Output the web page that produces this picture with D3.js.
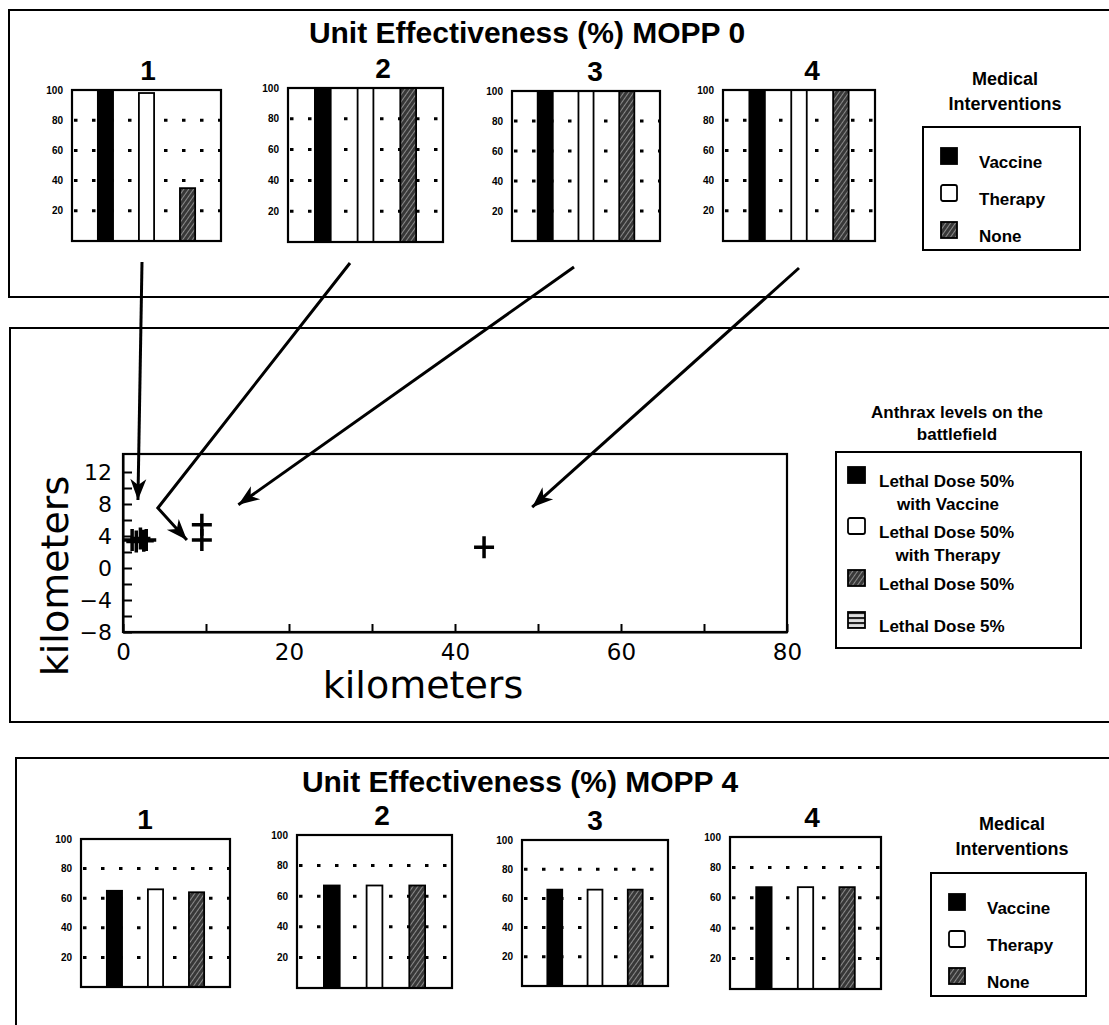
<!DOCTYPE html>
<html>
<head>
<meta charset="utf-8">
<script src="https://cdn.jsdelivr.net/npm/d3@7"></script>
<style>
  body { margin: 0; background: #fff; }
  svg { display: block; }
  .bold { font-family: "Liberation Sans", Arial, sans-serif; font-weight: bold; }
  .km { font-family: "DejaVu Sans", sans-serif; }
</style>
</head>
<body>
<div class="box"></div>
<script>
// DATA
const interventions = ["Vaccine", "Therapy", "None"];
const unitNames = ["1", "2", "3", "4"];
// unit effectiveness (%) per unit, order = interventions
const mopp0Values = [[100, 98, 35], [100, 100, 100], [100, 100, 100], [100, 100, 100]];
const mopp4Values = [[65, 66, 64], [67, 67, 67], [66, 66, 66], [67, 67, 67]];
const effTicks = [20, 40, 60, 80, 100];

// unit positions on the battlefield (km)
const unitX = [1.1, 1.6, 2.1, 2.5, 2.8, 9.5, 9.5, 43.5];
const unitY = [3.5, 3.3, 3.7, 3.4, 3.5, 5.4, 3.5, 2.6];
const kmXTicks = [0, 20, 40, 60, 80];
const kmYTicks = [-8, -4, 0, 4, 8, 12];

const doseLevels = [["Lethal Dose 50%", "with Vaccine"], ["Lethal Dose 50%", "with Therapy"], ["Lethal Dose 50%"], ["Lethal Dose 5%"]];

// LAYOUT
const w = 1109;
const h = 1025;
const topCharts = [
    {x: 72, y: 90, w: 149, h: 151, tx: 148},
    {x: 288, y: 88, w: 155, h: 154, tx: 383},
    {x: 512, y: 91, w: 148, h: 150, tx: 595},
    {x: 723, y: 90, w: 152, h: 151, tx: 812}
];
const botCharts = [
    {x: 81, y: 839, w: 149, h: 148, tx: 145},
    {x: 297, y: 835, w: 155, h: 153, tx: 382},
    {x: 522, y: 840, w: 146, h: 146, tx: 595},
    {x: 730, y: 837, w: 151, h: 152, tx: 812}
];

const svg = d3.select(".box")
    .append("svg")
    .attr("width", w)
    .attr("height", h)
    .style("background", "#fff");

// PATTERNS
const defs = svg.append("defs");
defs.append("pattern")
    .attr("id", "hatch")
    .attr("patternUnits", "userSpaceOnUse")
    .attr("width", 4).attr("height", 4)
    .attr("patternTransform", "rotate(35)")
    .call(p => {
        p.append("rect").attr("width", 4).attr("height", 4).attr("fill", "#383838");
        p.append("line").attr("x1", 0).attr("y1", 0).attr("x2", 0).attr("y2", 4)
            .attr("stroke", "#b8b8b8").attr("stroke-width", 1.3);
    });
defs.append("pattern")
    .attr("id", "stripes")
    .attr("patternUnits", "userSpaceOnUse")
    .attr("width", 4).attr("height", 5)
    .call(p => {
        p.append("rect").attr("width", 4).attr("height", 5).attr("fill", "#ddd");
        p.append("line").attr("x1", 0).attr("y1", 1).attr("x2", 4).attr("y2", 1)
            .attr("stroke", "#222").attr("stroke-width", 2.2);
    });
defs.append("marker")
    .attr("id", "head")
    .attr("markerUnits", "userSpaceOnUse")
    .attr("viewBox", "-22 -10 24 20")
    .attr("markerWidth", 24).attr("markerHeight", 20)
    .attr("refX", 0).attr("refY", 0)
    .attr("orient", "auto")
    .append("path")
    .attr("d", "M0,0L-21,-8L-15,0L-21,8Z")
    .attr("fill", "#000");

const fillOf = {Vaccine: "#000", Therapy: "#fff", None: "url(#hatch)"};

// PANEL BORDERS
const border = d => svg.append("path").attr("d", d)
    .attr("fill", "none").attr("stroke", "#000").attr("stroke-width", 2);
border("M1115,10H9V297H1115");
border("M1115,328H10V722H1115");
border("M1115,758H16V1030");

// UNIT EFFECTIVENESS CHARTS
function drawUnitChart(frame, values, name) {
    const x = d3.scaleBand()
        .domain(interventions)
        .range([0, frame.w])
        .paddingInner(0.63)
        .paddingOuter(0.63);
    const y = d3.scaleLinear().domain([0, 100]).range([frame.h, 0]);

    const g = svg.append("g").attr("transform", "translate(" + frame.x + "," + frame.y + ")");

    g.append("text")
        .attr("class", "bold")
        .attr("x", frame.tx - frame.x)
        .attr("y", -10)
        .attr("text-anchor", "middle")
        .style("font-size", "28px")
        .text(name);

    // dotted grid
    g.selectAll(".grid")
        .data(effTicks.filter(d => d < 100))
        .enter()
        .append("line")
        .attr("x1", 2).attr("x2", frame.w)
        .attr("y1", d => y(d)).attr("y2", d => y(d))
        .attr("stroke", "#000")
        .attr("stroke-width", 3)
        .attr("stroke-dasharray", "3.5,14.5");

    g.selectAll(".bar")
        .data(values.map((v, i) => ({key: interventions[i], value: v})))
        .enter()
        .append("rect")
        .attr("x", d => x(d.key))
        .attr("y", d => y(d.value))
        .attr("width", x.bandwidth())
        .attr("height", d => frame.h - y(d.value))
        .attr("fill", d => fillOf[d.key])
        .attr("stroke", "#000")
        .attr("stroke-width", 1.8);

    g.append("rect")
        .attr("width", frame.w).attr("height", frame.h)
        .attr("fill", "none").attr("stroke", "#000").attr("stroke-width", 2.2);

    g.selectAll(".tick")
        .data(effTicks)
        .enter()
        .append("text")
        .attr("class", "bold")
        .attr("x", -9)
        .attr("y", d => y(d))
        .attr("dy", "0.35em")
        .attr("text-anchor", "end")
        .style("font-size", "10px")
        .text(d => d);
}

function drawMedicalLegend(cx, titleY, box) {
    const g = svg.append("g");
    g.selectAll(".lt")
        .data(["Medical", "Interventions"])
        .enter()
        .append("text")
        .attr("class", "bold")
        .attr("x", cx)
        .attr("y", (d, i) => titleY + i * 25)
        .attr("text-anchor", "middle")
        .style("font-size", "18px")
        .text(d => d);
    g.append("rect")
        .attr("x", box.x).attr("y", box.y).attr("width", box.w).attr("height", box.h)
        .attr("fill", "none").attr("stroke", "#000").attr("stroke-width", 2);
    const item = g.selectAll(".item")
        .data(interventions)
        .enter()
        .append("g")
        .attr("transform", (d, i) => "translate(" + (box.x + 18) + "," + (box.y + 21 + i * 37) + ")");
    item.append("rect")
        .attr("width", 16).attr("height", 16)
        .attr("rx", d => d === "Therapy" ? 2 : 0)
        .attr("fill", d => fillOf[d])
        .attr("stroke", "#000").attr("stroke-width", 1.8);
    item.append("text")
        .attr("class", "bold")
        .attr("x", 38)
        .attr("y", 20)
        .style("font-size", "17px")
        .text(d => d);
}

svg.append("text")
    .attr("class", "bold")
    .attr("x", 527).attr("y", 43)
    .attr("text-anchor", "middle")
    .style("font-size", "30px")
    .text("Unit Effectiveness (%) MOPP 0");
svg.append("text")
    .attr("class", "bold")
    .attr("x", 520).attr("y", 792)
    .attr("text-anchor", "middle")
    .style("font-size", "30px")
    .text("Unit Effectiveness (%) MOPP 4");

topCharts.forEach((f, i) => drawUnitChart(f, mopp0Values[i], unitNames[i]));
botCharts.forEach((f, i) => drawUnitChart(f, mopp4Values[i], unitNames[i]));
drawMedicalLegend(1005, 85, {x: 923, y: 127, w: 157, h: 123});
drawMedicalLegend(1012, 830, {x: 931, y: 873, w: 155, h: 123});

// BATTLEFIELD MAP
const xKm = d3.scaleLinear().domain([0, 80]).range([123, 787]);
const yKm = d3.scaleLinear().domain([-8, 14.25]).range([632, 454]);

svg.append("rect")
    .attr("x", xKm(0)).attr("y", yKm(14.25))
    .attr("width", xKm(80) - xKm(0)).attr("height", yKm(-8) - yKm(14.25))
    .attr("fill", "none").attr("stroke", "#000").attr("stroke-width", 2.2);

const minus = d => d < 0 ? "\u2212" + Math.abs(d) : String(d);

const xAxis = svg.append("g")
    .attr("class", "km")
    .attr("transform", "translate(0," + yKm(-8) + ")")
    .call(d3.axisBottom(xKm)
        .tickValues(d3.range(0, 81, 10))
        .tickSizeInner(-8).tickSizeOuter(0)
        .tickPadding(12)
        .tickFormat(d => kmXTicks.includes(d) ? d : ""));
const yAxis = svg.append("g")
    .attr("class", "km")
    .attr("transform", "translate(" + xKm(0) + ",0)")
    .call(d3.axisLeft(yKm)
        .tickValues(d3.range(-8, 13, 2))
        .tickSizeInner(-9).tickSizeOuter(0)
        .tickPadding(11)
        .tickFormat(d => kmYTicks.includes(d) ? minus(d) : ""));
[xAxis, yAxis].forEach(a => {
    a.selectAll("path, line").attr("stroke", "#000").attr("stroke-width", 2);
    a.selectAll("text").attr("fill", "#000").attr("font-family", "DejaVu Sans");
});
xAxis.selectAll("text").attr("font-size", 23);
yAxis.selectAll("text").attr("font-size", 22);

svg.append("text")
    .attr("class", "km")
    .attr("x", 423).attr("y", 698)
    .attr("text-anchor", "middle")
    .style("font-size", "38px")
    .text("kilometers");
svg.append("text")
    .attr("class", "km")
    .attr("transform", "translate(68,576) rotate(-90)")
    .attr("text-anchor", "middle")
    .style("font-size", "38px")
    .text("kilometers");

// unit markers
svg.selectAll(".unit")
    .data(unitX.map((d, i) => [d, unitY[i]]))
    .enter()
    .append("path")
    .attr("transform", d => "translate(" + xKm(d[0]) + "," + yKm(d[1]) + ")")
    .attr("d", "M-10,0H10M0,-11V11")
    .attr("stroke", "#000")
    .attr("stroke-width", 3.5);

// arrows from the unit charts to the units
const arrows = [
    {from: [142, 262], via: [], to: [1.8, 8.5]},
    {from: [350, 263], via: [[4.2, 7.5]], to: [7.7, 3.5]},
    {from: [574, 267], via: [], to: [13.9, 7.9]},
    {from: [799, 268], via: [], to: [49.3, 7.6]}
];
svg.selectAll(".arrow")
    .data(arrows)
    .enter()
    .append("path")
    .attr("d", d => d3.line()([d.from].concat(d.via.concat([d.to]).map(p => [xKm(p[0]), yKm(p[1])]))))
    .attr("fill", "none")
    .attr("stroke", "#000")
    .attr("stroke-width", 3)
    .attr("marker-end", "url(#head)");

// DOSE LEGEND
const dl = svg.append("g");
dl.selectAll(".dt")
    .data(["Anthrax levels on the", "battlefield"])
    .enter()
    .append("text")
    .attr("class", "bold")
    .attr("x", 957)
    .attr("y", (d, i) => 418 + i * 22)
    .attr("text-anchor", "middle")
    .style("font-size", "17px")
    .text(d => d);
dl.append("rect")
    .attr("x", 836).attr("y", 452).attr("width", 245).attr("height", 196)
    .attr("fill", "none").attr("stroke", "#000").attr("stroke-width", 2);
const doseFill = ["#000", "#fff", "url(#hatch)", "url(#stripes)"];
const doseTop = [467, 518, 570, 612];
const doseItem = dl.selectAll(".di")
    .data(doseLevels)
    .enter()
    .append("g")
    .attr("transform", (d, i) => "translate(848," + doseTop[i] + ")");
doseItem.append("rect")
    .attr("width", 17).attr("height", 16)
    .attr("rx", (d, i) => i === 1 ? 2 : 0)
    .attr("fill", (d, i) => doseFill[i])
    .attr("stroke", "#000").attr("stroke-width", 1.8);
doseItem.selectAll("text")
    .data(d => d)
    .enter()
    .append("text")
    .attr("class", "bold")
    .attr("x", (d, i) => i === 0 ? 31 : 100)
    .attr("y", (d, i) => 20 + i * 23)
    .attr("text-anchor", (d, i) => i === 0 ? "start" : "middle")
    .style("font-size", "17px")
    .text(d => d);
</script>
</body>
</html>
